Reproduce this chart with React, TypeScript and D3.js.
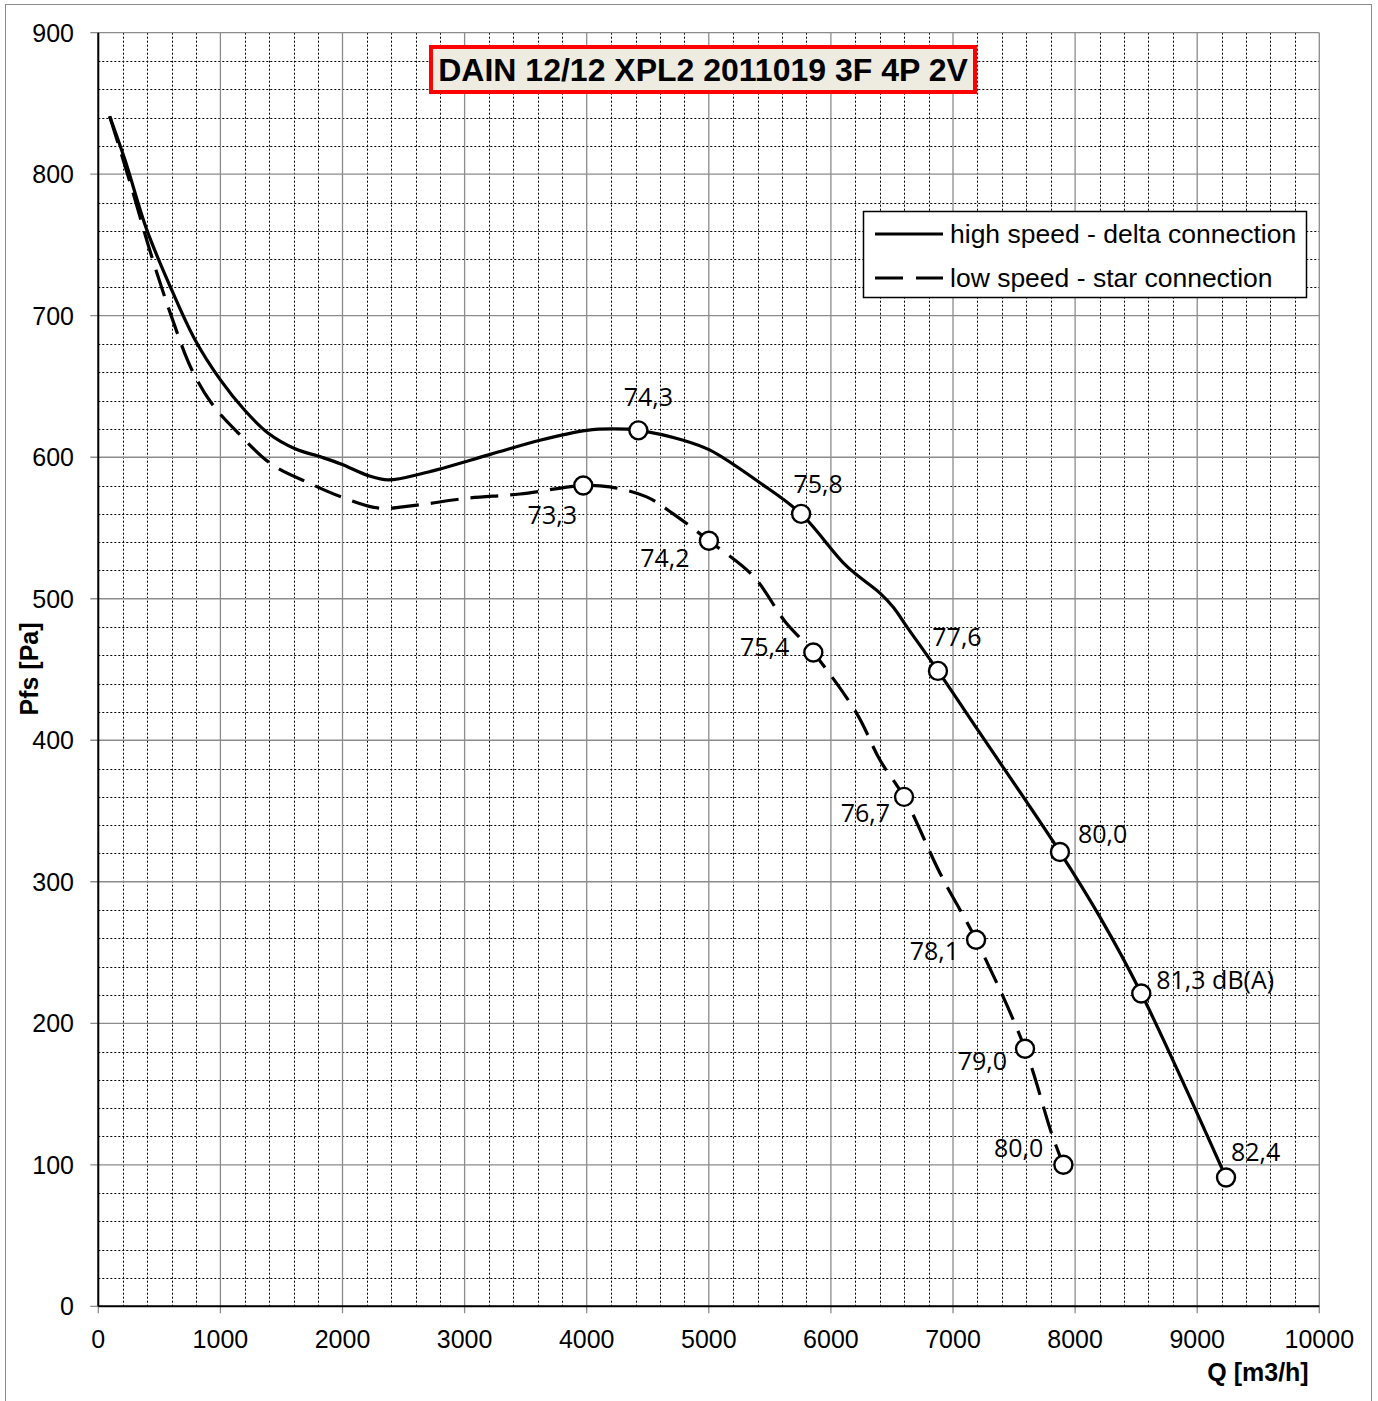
import React from 'react';
import * as d3 from 'd3';

// ---- Data ----
const highQ = [93, 219, 396, 587, 792, 997, 1201, 1392, 1612, 1830, 1993, 2211, 2375, 2676, 3211, 3617, 4000, 4218, 4423, 4791, 5010, 5418, 5756, 6129, 6402, 6511, 6624, 6877, 7221, 7876, 8204, 8542, 9236];
const highP = [841, 810, 761, 721, 683, 655, 633, 617, 606, 600, 595, 587, 584, 589, 602, 612, 619, 620, 619, 612, 605, 582, 560, 523, 504, 494, 480, 449, 405, 321, 275, 221, 91];

const lowQ = [93, 250, 437, 601, 765, 929, 1147, 1420, 1720, 2020, 2300, 2594, 3017, 3453, 3972, 4190, 4491, 4709, 5001, 5364, 5624, 5856, 6211, 6402, 6599, 6894, 7189, 7590, 7808, 7904];
const lowP = [841, 797, 742, 699, 662, 638, 617, 595, 582, 571, 564, 566, 571, 574, 580, 579, 572, 560, 541, 516, 484, 462, 419, 386, 360, 306, 259, 182, 122, 100];

const highPtsQ = [4423, 5756, 6877, 7876, 8542, 9236];
const highPtsP = [619, 560, 449, 321, 221, 91];
const highPtsLabel = ['74,3', '75,8', '77,6', '80,0', '81,3 dB(A)', '82,4'];

const lowPtsQ = [3972, 5001, 5856, 6599, 7189, 7590, 7904];
const lowPtsP = [580, 541, 462, 360, 259, 182, 100];
const lowPtsLabel = ['73,3', '74,2', '75,4', '76,7', '78,1', '79,0', '80,0'];

const xTicks = [0, 1000, 2000, 3000, 4000, 5000, 6000, 7000, 8000, 9000, 10000];
const yTicks = [0, 100, 200, 300, 400, 500, 600, 700, 800, 900];

const titleText = 'DAIN 12/12 XPL2 2011019 3F 4P 2V';
const legendLabels = ['high speed - delta connection', 'low speed - star connection'];
const xTitle = 'Q [m3/h]';
const yTitle = 'Pfs [Pa]';

// ---- Layout (label placement relative to markers) ----
const highLabelPlace = [
  { dx: 10, dy: -24, anchor: 'middle' },
  { dx: 17, dy: -21, anchor: 'middle' },
  { dx: 19, dy: -25, anchor: 'middle' },
  { dx: 18, dy: -9, anchor: 'start' },
  { dx: 15, dy: -5, anchor: 'start' },
  { dx: 5, dy: -17, anchor: 'start' },
];
const lowLabelPlace = [
  { dx: -31, dy: 38, anchor: 'middle' },
  { dx: -44, dy: 26, anchor: 'middle' },
  { dx: -24, dy: 3, anchor: 'end' },
  { dx: -14, dy: 25, anchor: 'end' },
  { dx: -17, dy: 20, anchor: 'end' },
  { dx: -18, dy: 21, anchor: 'end' },
  { dx: -20, dy: -8, anchor: 'end' },
];

const W = 1378;
const H = 1401;
const X0 = 98.3, X1 = 1319.3, Y0 = 1306.3, Y1 = 32.7;

export default function App() {
  const x = d3.scaleLinear().domain([0, 10000]).range([X0, X1]);
  const y = d3.scaleLinear().domain([0, 900]).range([Y0, Y1]);

  const line = d3.line<[number, number]>()
    .x(d => x(d[0]))
    .y(d => y(d[1]))
    .curve(d3.curveCatmullRom.alpha(0.5));

  const highData: [number, number][] = highQ.map((q, i) => [q, highP[i]]);
  const lowData: [number, number][] = lowQ.map((q, i) => [q, lowP[i]]);

  const minorX = d3.range(200, 10000, 200).filter(v => v % 1000 !== 0);
  const minorY = d3.range(20, 900, 20).filter(v => v % 100 !== 0);

  const axisFont = '"Liberation Sans", Arial, sans-serif';
  const labelFont = '"Open Sans", "Noto Sans", sans-serif';
  const dash = '28 12';

  return (
    <svg width={W} height={H} style={{ position: 'absolute', left: 0, top: 0, background: '#fff' }}>
      <rect x={0} y={0} width={W} height={H} fill="#fff" />
      <rect x={5.5} y={4.5} width={1366} height={1420} fill="none" stroke="#8a8a8a" strokeWidth={1} />

      {/* minor dotted grid */}
      <g stroke="#000" strokeWidth={1} strokeDasharray="2 2">
        {minorX.map(v => (
          <line key={'mx' + v} x1={Math.round(x(v)) + 0.5} x2={Math.round(x(v)) + 0.5} y1={Y1} y2={Y0} />
        ))}
        {minorY.map(v => (
          <line key={'my' + v} x1={X0} x2={X1} y1={Math.round(y(v)) + 0.5} y2={Math.round(y(v)) + 0.5} />
        ))}
      </g>
      {/* major grid */}
      <g stroke="#8c8c8c" strokeWidth={1.3}>
        {xTicks.map(v => (
          <line key={'gx' + v} x1={x(v)} x2={x(v)} y1={Y1} y2={Y0 + 7} />
        ))}
        {yTicks.map(v => (
          <line key={'gy' + v} x1={X0 - 8} x2={X1} y1={y(v)} y2={y(v)} />
        ))}
      </g>
      {/* axes */}
      <line x1={X0} x2={X0} y1={Y1} y2={Y0} stroke="#000" strokeWidth={2} />
      <line x1={X0} x2={X1} y1={Y0} y2={Y0} stroke="#000" strokeWidth={2} />

      {/* tick labels */}
      <g fontFamily={axisFont} fontSize={25} fill="#000">
        {yTicks.map(v => (
          <text key={'yl' + v} x={74} y={y(v)} textAnchor="end" dominantBaseline="central">{v}</text>
        ))}
        {xTicks.map(v => (
          <text key={'xl' + v} x={x(v)} y={1348} textAnchor="middle">{v}</text>
        ))}
      </g>
      <text x={1258} y={1381} textAnchor="middle" fontFamily={axisFont} fontSize={25} fontWeight="bold">{xTitle}</text>
      <text transform="translate(38,669) rotate(-90)" textAnchor="middle" fontFamily={axisFont} fontSize={25} fontWeight="bold">{yTitle}</text>

      {/* curves */}
      <path d={line(lowData) || ''} fill="none" stroke="#000" strokeWidth={3.2} strokeDasharray={dash} />
      <path d={line(highData) || ''} fill="none" stroke="#000" strokeWidth={3.2} />

      {/* markers */}
      {highPtsQ.map((q, i) => (
        <circle key={'hc' + i} cx={x(q)} cy={y(highPtsP[i])} r={9} fill="#fff" stroke="#000" strokeWidth={2.4} />
      ))}
      {lowPtsQ.map((q, i) => (
        <circle key={'lc' + i} cx={x(q)} cy={y(lowPtsP[i])} r={9} fill="#fff" stroke="#000" strokeWidth={2.4} />
      ))}

      {/* point labels */}
      <g fontFamily={labelFont} fontSize={25} fill="#000">
        {highPtsQ.map((q, i) => (
          <text key={'hl' + i} x={x(q) + highLabelPlace[i].dx} y={y(highPtsP[i]) + highLabelPlace[i].dy} textAnchor={highLabelPlace[i].anchor as any}>{highPtsLabel[i]}</text>
        ))}
        {lowPtsQ.map((q, i) => (
          <text key={'ll' + i} x={x(q) + lowLabelPlace[i].dx} y={y(lowPtsP[i]) + lowLabelPlace[i].dy} textAnchor={lowLabelPlace[i].anchor as any}>{lowPtsLabel[i]}</text>
        ))}
      </g>

      {/* legend */}
      <rect x={863.5} y={211.5} width={443} height={86} fill="#fff" stroke="#000" strokeWidth={1.5} />
      <line x1={875} x2={943} y1={234} y2={234} stroke="#000" strokeWidth={3.2} />
      <line x1={875} x2={943} y1={278} y2={278} stroke="#000" strokeWidth={3.2} strokeDasharray="28 13" />
      <g fontFamily={axisFont} fontSize={26.5} fill="#000">
        <text x={950} y={234} dominantBaseline="central">{legendLabels[0]}</text>
        <text x={950} y={278} dominantBaseline="central">{legendLabels[1]}</text>
      </g>

      {/* title */}
      <rect x={431} y={47} width={544} height={45} fill="#EEECE1" stroke="#ff0000" strokeWidth={4} />
      <text x={703} y={81} textAnchor="middle" fontFamily={axisFont} fontSize={32} fontWeight="bold" fill="#000">{titleText}</text>
    </svg>
  );
}
